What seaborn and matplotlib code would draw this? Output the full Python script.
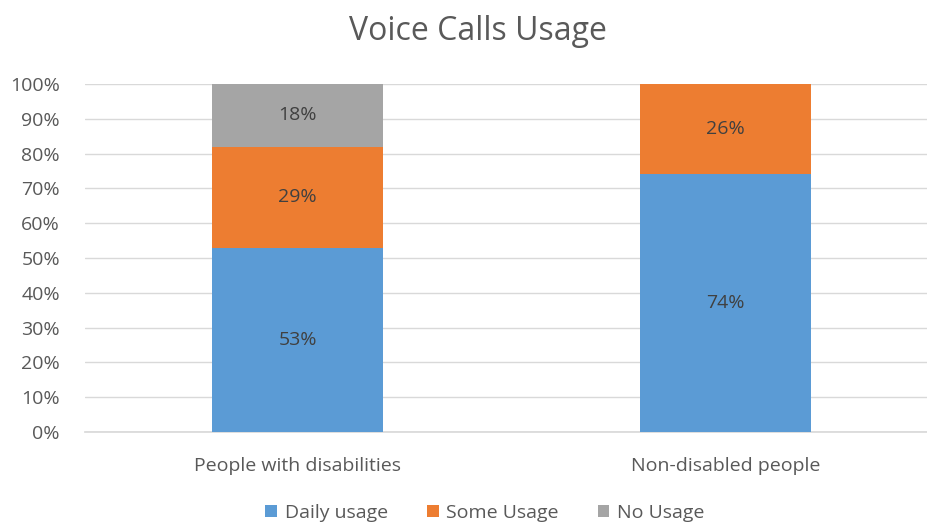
import numpy as np
import pandas as pd
import matplotlib.pyplot as plt
import seaborn as sns
from matplotlib.patches import Patch

groups = ["People with disabilities", "Non-disabled people"]
daily = [53, 74]
some = [29, 26]
none_ = [18, 0]
series_names = ["Daily usage", "Some Usage", "No Usage"]
colors = ["#5B9BD5", "#ED7D31", "#A5A5A5"]
yticks = [0, 10, 20, 30, 40, 50, 60, 70, 80, 90, 100]

sns.set_theme(style="white")
plt.rcParams['font.family'] = ['Open Sans', 'DejaVu Sans']
txt = "#595959"
fs = 14

df = pd.DataFrame({"group": groups, "daily": daily, "some": some, "none": none_})
df["c1"] = df["daily"]
df["c2"] = df["daily"] + df["some"]
df["c3"] = df["c2"] + df["none"]

fig = plt.figure(figsize=(9.28, 5.25), dpi=100)
ax = fig.add_axes([85 / 928, 93 / 525, 843 / 928, 348 / 525])

# stack by drawing cumulative totals, tallest first
for col, c in zip(["c3", "c2", "c1"], colors[::-1]):
    sns.barplot(data=df, x="group", y=col, color=c, width=0.4, ax=ax,
                saturation=1, linewidth=0, zorder=3)

for i, row in df.iterrows():
    base = 0
    for val in [row["daily"], row["some"], row["none"]]:
        if val > 0:
            ax.text(i, base + val / 2, f"{val}%", ha="center", va="center",
                    fontsize=fs, color="#404040", zorder=4)
        base += val

ax.set_xlim(-0.4965, 1.473)
ax.set_ylim(0, 100)
ax.set_yticks(yticks)
ax.set_yticklabels([f"{t}%" for t in yticks], fontsize=fs, color=txt)
ax.tick_params(axis="x", labelsize=fs, colors=txt, length=0, pad=18)
ax.tick_params(axis="y", length=0, pad=18)
ax.set_xlabel("")
ax.set_ylabel("")
ax.grid(axis="y", color="#D9D9D9", linewidth=1, zorder=0)
for s in ["top", "right", "left"]:
    ax.spines[s].set_visible(False)
ax.spines["bottom"].set_color("#D9D9D9")

fig.text(478 / 928, 1 - 32 / 525, "Voice Calls Usage", ha="center", va="center",
         fontsize=23, color=txt)

handles = [Patch(facecolor=c, edgecolor="none", label=n) for n, c in zip(series_names, colors)]
fig.legend(handles=handles, loc="center", bbox_to_anchor=(485 / 928, 1 - 513 / 525),
           ncol=3, frameon=False, fontsize=fs, handlelength=0.6, handleheight=0.6,
           handletextpad=0.4, columnspacing=2.0, labelcolor=txt)

fig.savefig("out.png", dpi=100)
